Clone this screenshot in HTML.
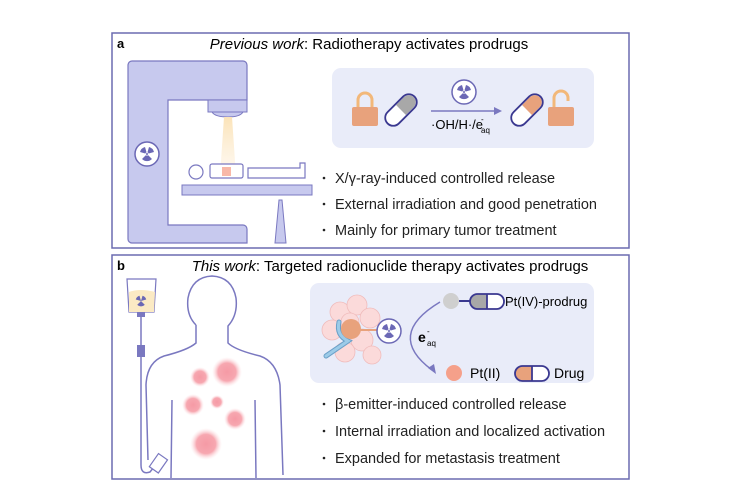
<!DOCTYPE html>
<html><head><meta charset="utf-8"><style>
body{margin:0;background:#fff;}
svg{display:block;font-family:"Liberation Sans",sans-serif;}
</style></head><body>
<svg width="747" height="498" viewBox="0 0 747 498" xmlns="http://www.w3.org/2000/svg">
<defs>
<radialGradient id="pk"><stop offset="0" stop-color="#f59aa5"/><stop offset="0.6" stop-color="#f7a7b0"/><stop offset="1" stop-color="#fde2e5" stop-opacity="0"/></radialGradient>
<linearGradient id="beam" x1="0" y1="0" x2="0" y2="1"><stop offset="0" stop-color="#fbe3b8"/><stop offset="1" stop-color="#fdf0dc" stop-opacity="0.4"/></linearGradient>
<g id="rad"><circle r="12" fill="#fff" stroke="#6b68b5" stroke-width="1.5"/>
<path d="M0 0 L-7 -2 A7 7 0 0 1 -2 -7Z M0 0 L2 -7 A7 7 0 0 1 7 -2Z M0 0 L5 5 A7 7 0 0 1 -5 5Z" fill="#6b68b5"/><circle r="1.6" fill="#fff"/><circle r="1" fill="#6b68b5"/></g>
</defs>
<rect x="112" y="33" width="517" height="215" fill="#fff" stroke="#6b6bb0" stroke-width="1.5"/>
<text x="117" y="48" font-size="13" font-weight="bold">a</text>
<text x="369" y="49" font-size="15" text-anchor="middle"><tspan font-style="italic">Previous work</tspan>: Radiotherapy activates prodrugs</text>
<path d="M132 61 H243 a4 4 0 0 1 4 4 V100 H168 V225 H243 a4 4 0 0 1 4 4 V243 H132 a4 4 0 0 1 -4 -4 V65 a4 4 0 0 1 4 -4Z" fill="#c7c9ee" stroke="#7a78c0" stroke-width="1.2"/>
<rect x="208" y="100" width="39" height="12" fill="#c7c9ee" stroke="#7a78c0" stroke-width="1"/>
<path d="M212 112 H243 Q240 117 228 117 Q215 117 212 112Z" fill="#c7c9ee" stroke="#7a78c0" stroke-width="1"/>
<path d="M224 117 H232 L236 176 H220Z" fill="url(#beam)"/>
<use href="#rad" x="147" y="154"/>
<circle cx="196" cy="172" r="7" fill="#fff" stroke="#7a78c0" stroke-width="1.2"/>
<rect x="210" y="164" width="33" height="14" rx="2" fill="#fff" stroke="#7a78c0" stroke-width="1.2"/>
<rect x="222" y="167" width="9" height="9" fill="#f8b8a8"/>
<path d="M248 168 H300 V163 H305 V178 H248Z" fill="#fff" stroke="#7a78c0" stroke-width="1.2"/>
<rect x="182" y="185" width="130" height="10" fill="#c7c9ee" stroke="#7a78c0" stroke-width="1"/>
<path d="M279 200 H282 L286 243 H275Z" fill="#c7c9ee" stroke="#7a78c0" stroke-width="1"/>
<rect x="332" y="68" width="262" height="80" rx="9" fill="#e9ecf9"/>
<path d="M358 108 V100 a7 7 0 0 1 14 0 V108" fill="none" stroke="#f2b87a" stroke-width="3"/>
<rect x="352" y="107" width="26" height="19" rx="2" fill="#e8a27c"/>
<g transform="translate(401,110) rotate(-45)"><rect x="-19" y="-8" width="38" height="16" rx="8" fill="#fff"/><path d="M0 -7 H11 a7 7 0 0 1 0 14 H0Z" fill="#a8a8a8"/><rect x="-19" y="-8" width="38" height="16" rx="8" fill="none" stroke="#3a3890" stroke-width="1.8"/></g>
<line x1="431" y1="111" x2="496" y2="111" stroke="#7a78c0" stroke-width="1.5"/>
<path d="M494 107 L502 111 L494 115Z" fill="#7a78c0"/>
<use href="#rad" x="464" y="92"/>
<text x="431" y="129" font-size="13">·OH/H·/e</text>
<text x="481" y="122" font-size="8">-</text>
<text x="481" y="133" font-size="8">aq</text>
<g transform="translate(527,110) rotate(-45)"><rect x="-19" y="-8" width="38" height="16" rx="8" fill="#fff"/><path d="M0 -7 H11 a7 7 0 0 1 0 14 H0Z" fill="#e8a27c"/><rect x="-19" y="-8" width="38" height="16" rx="8" fill="none" stroke="#3a3890" stroke-width="1.8"/></g>
<path d="M554 108 V98 a7 7 0 0 1 14 0 V101" fill="none" stroke="#f2b87a" stroke-width="3"/>
<rect x="548" y="107" width="26" height="19" rx="2" fill="#e8a27c"/>
<g font-size="14.5" fill="#222">
<circle cx="324" cy="178" r="1.3"/><text x="335" y="183">X/γ-ray-induced controlled release</text>
<circle cx="324" cy="204" r="1.3"/><text x="335" y="209">External irradiation and good penetration</text>
<circle cx="324" cy="230" r="1.3"/><text x="335" y="235">Mainly for primary tumor treatment</text>
</g>
<rect x="112" y="255" width="517" height="224" fill="#fff" stroke="#6b6bb0" stroke-width="1.5"/>
<text x="117" y="270" font-size="13" font-weight="bold">b</text>
<text x="390" y="271" font-size="15" text-anchor="middle"><tspan font-style="italic">This work</tspan>: Targeted radionuclide therapy activates prodrugs</text>
<path d="M127 279 H156 L154 312 H129Z" fill="#fff" stroke="#7a78c0" stroke-width="1.2"/>
<path d="M129 292 Q140 288 155 292 L154 312 H129Z" fill="#fbeac4"/>
<g transform="translate(141,301) scale(0.75)"><path d="M0 0 L-7 -2 A7 7 0 0 1 -2 -7Z M0 0 L2 -7 A7 7 0 0 1 7 -2Z M0 0 L5 5 A7 7 0 0 1 -5 5Z" fill="#6b68b5"/></g>
<rect x="137" y="312" width="8" height="5" fill="#7a78c0"/>
<line x1="141" y1="317" x2="141" y2="345" stroke="#7a78c0" stroke-width="1.5"/>
<rect x="137" y="345" width="8" height="12" fill="#7a78c0"/>
<path d="M141 357 V465 Q141 475 150 472 L158 462" fill="none" stroke="#7a78c0" stroke-width="1.5"/>
<rect x="153" y="455" width="11" height="16" fill="#fff" stroke="#7a78c0" stroke-width="1.2" transform="rotate(35 158 463)"/>
<path d="M196 325 Q186 315 188 298 Q192 277 212 276 Q232 277 236 298 Q238 315 228 326 L228 343 Q235 350 260 356 Q277 362 280 385 L283 475 M196 325 L196 343 Q188 350 164 356 Q147 362 146 385 L148 460 M172 400 L171 478 M255 400 L256 478" fill="none" stroke="#7a78c0" stroke-width="1.5"/>
<circle cx="200" cy="377" r="10" fill="url(#pk)"/>
<circle cx="227" cy="372" r="15" fill="url(#pk)"/>
<circle cx="193" cy="405" r="11" fill="url(#pk)"/>
<circle cx="217" cy="402" r="7" fill="url(#pk)"/>
<circle cx="235" cy="419" r="11" fill="url(#pk)"/>
<circle cx="206" cy="444" r="16" fill="url(#pk)"/>
<rect x="310" y="283" width="284" height="100" rx="9" fill="#e9ecf9"/>
<g fill="#fbdada" stroke="#f0bcbc" stroke-width="0.8">
<circle cx="340" cy="312" r="10"/><circle cx="357" cy="305" r="10"/><circle cx="370" cy="318" r="10"/><circle cx="332" cy="330" r="10"/><circle cx="362" cy="340" r="11"/><circle cx="345" cy="352" r="10"/><circle cx="372" cy="355" r="9"/><circle cx="350" cy="322" r="9"/>
</g>
<line x1="357" y1="330" x2="377" y2="330" stroke="#e8a27c" stroke-width="2"/>
<path d="M339 322 Q336 335 348 341 L326 356" fill="none" stroke="#6ba0c8" stroke-width="5" stroke-linecap="round"/>
<path d="M339 322 Q336 335 348 341 L326 356" fill="none" stroke="#9ccbe8" stroke-width="3" stroke-linecap="round"/>
<circle cx="351" cy="329" r="10" fill="#e8a27c"/>
<use href="#rad" x="389" y="331"/>
<path d="M440 302 Q385 335 432 370" fill="none" stroke="#7a78c0" stroke-width="1.5"/>
<path d="M428 368 L436 374 L434 364Z" fill="#7a78c0"/>
<text x="418" y="342" font-size="14" font-weight="bold">e</text>
<text x="427" y="334" font-size="8">-</text>
<text x="427" y="346" font-size="8">aq</text>
<circle cx="451" cy="301" r="8" fill="#cfcfcf"/>
<line x1="459" y1="301" x2="470" y2="301" stroke="#3a3890" stroke-width="2"/>
<rect x="470" y="294" width="34" height="15" rx="7.5" fill="#fff"/>
<path d="M477 294 H487 V309 H477 a7.5 7.5 0 0 1 0 -15Z" fill="#a8a8a8"/>
<line x1="487" y1="294" x2="487" y2="309" stroke="#3a3890" stroke-width="1.8"/>
<rect x="470" y="294" width="34" height="15" rx="7.5" fill="none" stroke="#3a3890" stroke-width="1.8"/>
<text x="505" y="306" font-size="13">Pt(IV)-prodrug</text>
<circle cx="454" cy="373" r="8" fill="#f5a08a"/>
<text x="470" y="378" font-size="14">Pt(II)</text>
<rect x="515" y="366" width="34" height="15" rx="7.5" fill="#fff"/>
<path d="M522 366 H532 V381 H522 a7.5 7.5 0 0 1 0 -15Z" fill="#e8a27c"/>
<line x1="532" y1="366" x2="532" y2="381" stroke="#3a3890" stroke-width="1.8"/>
<rect x="515" y="366" width="34" height="15" rx="7.5" fill="none" stroke="#3a3890" stroke-width="1.8"/>
<text x="554" y="378" font-size="14">Drug</text>
<g font-size="14.5" fill="#222">
<circle cx="324" cy="404" r="1.3"/><text x="335" y="409">β-emitter-induced controlled release</text>
<circle cx="324" cy="431" r="1.3"/><text x="335" y="436">Internal irradiation and localized activation</text>
<circle cx="324" cy="458" r="1.3"/><text x="335" y="463">Expanded for metastasis treatment</text>
</g>
</svg>
</body></html>
